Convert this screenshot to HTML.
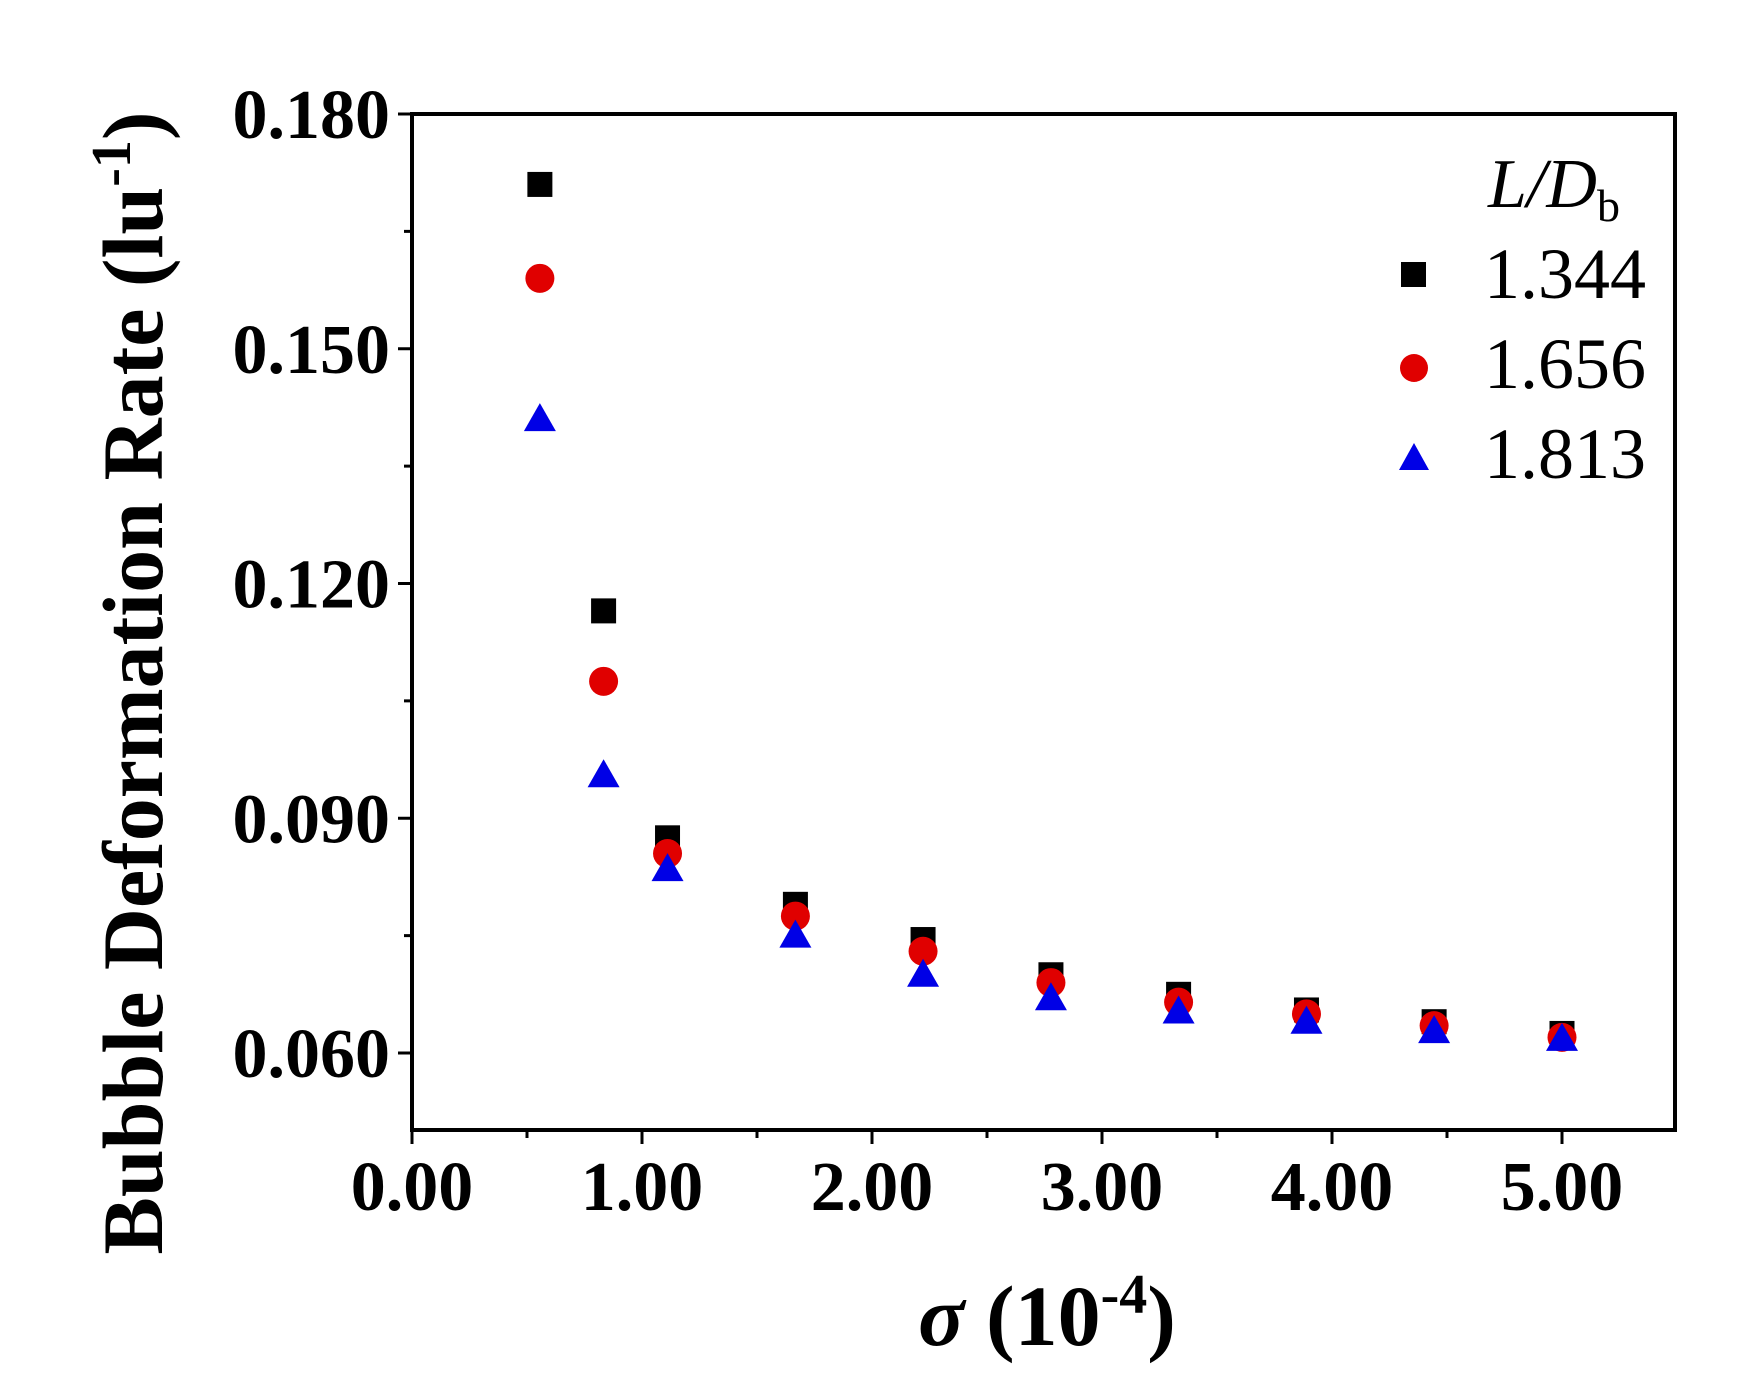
<!DOCTYPE html>
<html><head><meta charset="utf-8"><style>
html,body{margin:0;padding:0;background:#fff;}
svg{display:block;}
text{font-family:"Liberation Serif",serif;}
</style></head><body>
<svg id="s" width="1755" height="1397" xmlns="http://www.w3.org/2000/svg">
<rect x="412" y="114" width="1263" height="1016" fill="none" stroke="#000" stroke-width="4"/>
<g id="g"></g>
<text x="0" y="0" transform="translate(162,683) rotate(-90)" text-anchor="middle" font-size="86" font-weight="bold">Bubble Deformation Rate (lu<tspan dy="-32" font-size="56">-1</tspan><tspan dy="32">)</tspan></text>
<text x="1047" y="1345" text-anchor="middle" font-size="86" font-weight="bold"><tspan font-style="italic">σ</tspan> (10<tspan dy="-32" font-size="56">-4</tspan><tspan dy="32">)</tspan></text>
<text x="1488" y="207" font-size="70" font-style="italic">L/D<tspan font-style="normal" font-size="46" dy="14">b</tspan></text>
<rect x="1401" y="262" width="25" height="25" fill="#000"/>
<text x="1484" y="298" font-size="72">1.344</text>
<circle cx="1414" cy="368" r="14" fill="#e00000"/>
<text x="1484" y="388" font-size="72">1.656</text>
<polygon points="1414,443 1399,470 1429,470" fill="#0000e6"/>
<text x="1484" y="478" font-size="72">1.813</text>
</svg>
<script>
var g=document.getElementById('g');var h='';
function X(v){return 412+v*230;}function Y(v){return 1053-(v-0.06)/0.03*234.75;}
for(var i=0;i<=10;i++){var x=X(i*0.5);h+='<line x1="'+x+'" y1="1130" x2="'+x+'" y2="'+(1130+(i%2?8:14))+'" stroke="#000" stroke-width="3"/>';
if(i%2==0)h+='<text x="'+x+'" y="1210" text-anchor="middle" font-size="70" font-weight="bold">'+(i/2).toFixed(2)+'</text>';}
for(var j=0;j<=8;j++){var v=0.06+j*0.015;var y=Y(v);if(y<113)continue;h+='<line x1="412" y1="'+y+'" x2="'+(412-(j%2?8:14))+'" y2="'+y+'" stroke="#000" stroke-width="3"/>';
if(j%2==0)h+='<text x="390" y="'+(y+24)+'" text-anchor="end" font-size="70" font-weight="bold">'+v.toFixed(3)+'</text>';}
var xs=[0.556,0.833,1.111,1.667,2.222,2.778,3.333,3.889,4.444,5.0];
var sq=[0.171,0.1165,0.0875,0.079,0.0745,0.0700,0.0675,0.0655,0.0640,0.0625];
var ci=[0.159,0.1075,0.0855,0.0775,0.073,0.069,0.0665,0.065,0.0635,0.062];
var tr=[0.141,0.0955,0.0835,0.075,0.0700,0.0670,0.0653,0.064,0.0628,0.0618];
for(var k=0;k<10;k++){var x=X(xs[k]);
h+='<rect x="'+(x-12.5)+'" y="'+(Y(sq[k])-12.5)+'" width="25" height="25" fill="#000"/>';
h+='<circle cx="'+x+'" cy="'+Y(ci[k])+'" r="14.5" fill="#e00000"/>';
var y=Y(tr[k]);h+='<polygon points="'+x+','+(y-16)+' '+(x-16)+','+(y+12)+' '+(x+16)+','+(y+12)+'" fill="#0000e6"/>';}
g.innerHTML=h;
</script>
</body></html>
